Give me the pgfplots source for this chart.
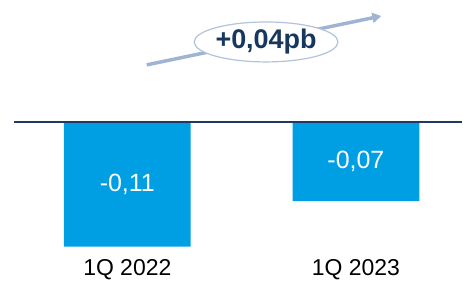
\documentclass[border=0pt]{standalone}
\usepackage{pgfplots}
\pgfplotsset{compat=1.18}
\usepackage{fontspec}
\setmainfont{Liberation Sans}
\usetikzlibrary{arrows.meta}
\definecolor{barblue}{HTML}{009FE3}
\definecolor{navy}{HTML}{1F3864}
\definecolor{arrowc}{HTML}{9FB3D3}
\definecolor{txtnavy}{HTML}{17375E}
\begin{document}
\begin{tikzpicture}
\begin{axis}[
  scale only axis,
  width=463bp, height=281bp,
  xmin=-0.5568, xmax=1.465,
  ymin=-0.14, ymax=0.1074,
  axis lines=none,
  ybar, bar width=127bp,
  clip=false,
]
\path (rel axis cs:0,0) rectangle (rel axis cs:1,1);
\addplot[fill=barblue, draw=none] coordinates {(0,-0.11) (1,-0.07)};
\draw[navy, line width=1.5bp] (axis cs:-0.4956,0) -- (axis cs:1.465,0);
\node[font=\fontsize{25bp}{29bp}\selectfont, text=white] at (axis cs:0,-0.0555) {-0,11};
\node[font=\fontsize{25bp}{29bp}\selectfont, text=white] at (axis cs:1,-0.0352) {-0,07};
\node[font=\fontsize{23bp}{27bp}\selectfont, text=black] at (axis cs:0,-0.1303) {1Q 2022};
\node[font=\fontsize{23bp}{27bp}\selectfont, text=black] at (axis cs:1,-0.1303) {1Q 2023};
\draw[arrowc, line width=3.5bp, -{Triangle[length=9bp,width=10bp]}] (axis cs:0.0852,0.0502) -- (axis cs:1.111,0.0933);
\draw[arrowc!80, line width=1.2bp, fill=white] (axis cs:0.6070,0.0704) ellipse [x radius=72bp, y radius=20bp];
\node[font=\bfseries\fontsize{27bp}{31bp}\selectfont, text=txtnavy] at (axis cs:0.6070,0.0704) {+0,04pb};
\end{axis}
\end{tikzpicture}
\end{document}
